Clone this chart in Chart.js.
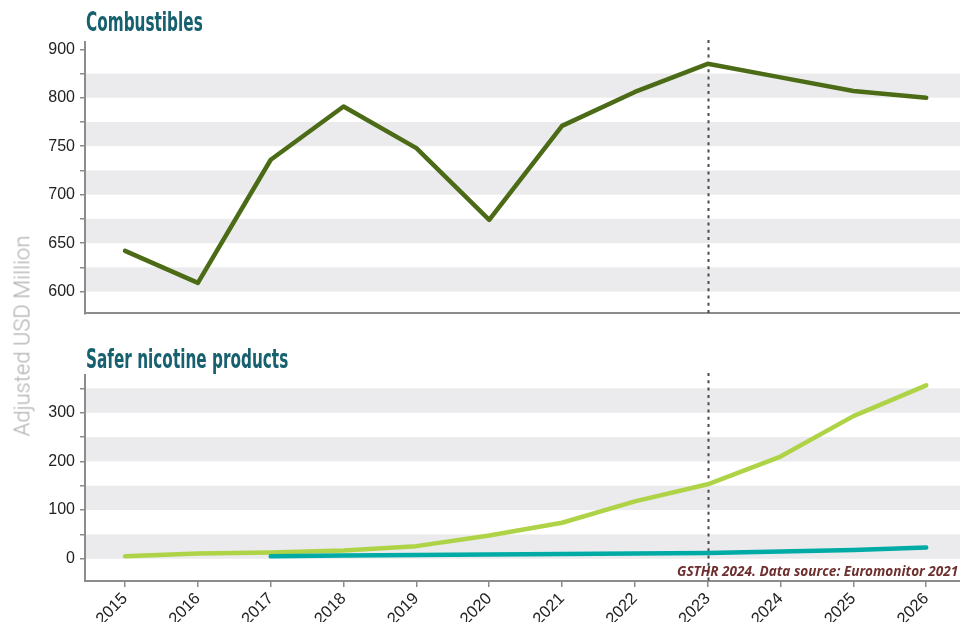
<!DOCTYPE html>
<html>
<head>
<meta charset="utf-8">
<title>Combustibles vs safer nicotine products</title>
<script src="https://cdn.jsdelivr.net/npm/chart.js@4.4.1/dist/chart.umd.min.js"></script>
<style>
  html, body { margin: 0; padding: 0; background: #fff; overflow: hidden; }
  #wrap { position: relative; width: 960px; height: 622px; overflow: hidden; }
  canvas { position: absolute; left: 0; }
  #combChart { top: 0; }
  #snpChart { top: 330px; }
  .title {
    position: absolute; left: 86px; white-space: nowrap;
    font-family: 'DejaVu Sans Condensed', 'Liberation Sans Narrow', 'Roboto Condensed', sans-serif;
    font-weight: 700; font-size: 27px; line-height: 28px; color: #17606f;
    transform-origin: left top;
  }
  #t1 { top: 8px; }
  #t2 { top: 345px; }
  #ytitle {
    position: absolute; left: 22px; top: 336px; white-space: nowrap;
    font-family: Roboto, 'Liberation Sans', sans-serif; font-weight: 300;
    font-size: 22px; color: #b0b0b0;
    transform: translate(-50%, -50%) rotate(-90deg);
  }
  #source {
    position: absolute; left: 677px; top: 561px; white-space: nowrap;
    font-family: 'Open Sans', 'Liberation Sans', sans-serif; font-style: italic; font-weight: 700;
    font-size: 13.6px; color: #6e2f2f;
  }
</style>
</head>
<body>
<div id="wrap">
  <canvas id="combChart" width="985" height="328"></canvas>
  <canvas id="snpChart" width="985" height="292"></canvas>
  <div class="title" id="t1" data-w="117">Combustibles</div>
  <div class="title" id="t2" data-w="202">Safer nicotine products</div>
  <div id="ytitle">Adjusted USD Million</div>
  <div id="source">GSTHR 2024. Data source: Euromonitor 2021</div>
</div>
<script>
const years = [2015, 2016, 2017, 2018, 2019, 2020, 2021, 2022, 2023, 2024, 2025, 2026]
const combustibles = [642, 609, 736, 791, 748, 674, 771, 806, 835, 821, 807, 800]
const vaping = [5, 11, 13, 17, 26, 48, 74, 118, 153, 210, 293, 356]
const heated = [null, null, 5, 7, 8, 9, 10, 11, 12, 15, 18, 23]

// y ticks of the top panel and the text shown beside them
const combTicks = [600, 650, 700, 750, 800, 850]
const combTickLabels = ['600', '650', '700', '750', '800', '900']
const snpTicks = [0, 100, 200, 300]
const snpTickLabels = ['0', '100', '200', '300']

const markerYear = 2023

const axisColor = '#8c8c8c'
const tickFont = { family: "'Liberation Sans', Arial, sans-serif", size: 16 }

const toPoints = values => years.map((x, i) => ({ x, y: values[i] }))

// squeeze the panel titles into a narrow, condensed look
document.querySelectorAll('.title').forEach(el => {
	const k = Number(el.dataset.w) / el.offsetWidth
	el.style.transform = `scaleX(${k})`
})

// grey bands from every labelled tick up to the next half step, plus the dotted year marker
const bandsPlugin = {
	id: 'bands',
	beforeDatasetsDraw(chart, args, opts) {
		const { ctx, chartArea: a, scales: { x, y } } = chart
		ctx.save()
		ctx.fillStyle = '#ebebed'
		opts.from.forEach(v => {
			const y1 = y.getPixelForValue(v)
			const y2 = Math.max(y.getPixelForValue(v + opts.size), a.top)
			ctx.fillRect(a.left + 1, y2, a.right - a.left, y1 - y2)
		})
		const mx = Math.round(x.getPixelForValue(markerYear)) + 0.5
		ctx.strokeStyle = '#4a4a4a'
		ctx.lineWidth = 2
		ctx.setLineDash([3, 4.3])
		ctx.beginPath()
		ctx.moveTo(mx, a.top - 2)
		ctx.lineTo(mx, a.bottom)
		ctx.stroke()
		ctx.restore()
	},
}

const xScale = (showLabels, height) => ({
	type: 'linear',
	min: 2014.45,
	max: 2026.67,
	ticks: {
		display: showLabels,
		stepSize: 1,
		includeBounds: false,
		autoSkip: false,
		minRotation: 45,
		maxRotation: 45,
		padding: 2,
		color: '#222',
		font: { ...tickFont, size: 16.5 },
		callback: v => String(v),
	},
	grid: { display: showLabels, drawOnChartArea: false, drawTicks: true, tickLength: 6, color: axisColor, lineWidth: 1.5 },
	border: { color: axisColor, width: 2 },
	afterFit: s => {
		s.height = height
	},
})

const yScale = (min, max, ticks, labels) => ({
	min,
	max,
	ticks: {
		stepSize: 25 * (ticks[1] - ticks[0]) / 50,
		includeBounds: false,
		autoSkip: false,
		padding: 5,
		color: '#222',
		font: tickFont,
		callback: v => {
			const i = ticks.indexOf(v)
			return i >= 0 ? labels[i] : ''
		},
	},
	grid: { drawOnChartArea: false, drawTicks: true, tickLength: 5, color: axisColor, lineWidth: 1.5 },
	border: { color: axisColor, width: 2 },
	afterFit: s => {
		s.width = 85
	},
})

const line = (data, color) => ({
	data,
	borderColor: color,
	borderWidth: 4.5,
	pointRadius: 0,
	tension: 0,
	borderCapStyle: 'round',
	borderJoinStyle: 'round',
	spanGaps: false,
})

const baseOptions = {
	responsive: false,
	animation: false,
	events: [],
	plugins: { legend: { display: false }, tooltip: { enabled: false } },
}

new Chart(document.getElementById('combChart'), {
	type: 'line',
	data: { datasets: [line(toPoints(combustibles), '#4b6b16')] },
	options: {
		...baseOptions,
		layout: { padding: { top: 42, bottom: 0, left: 0, right: 10 } },
		plugins: { ...baseOptions.plugins, bands: { from: combTicks.slice(0, -1), size: 25 } },
		scales: {
			x: xScale(false, 7),
			y: yScale(577.5, 857.5, combTicks, combTickLabels),
		},
	},
	plugins: [bandsPlugin],
})

new Chart(document.getElementById('snpChart'), {
	type: 'line',
	data: {
		datasets: [line(toPoints(heated), '#00aba6'), line(toPoints(vaping), '#afd346')],
	},
	options: {
		...baseOptions,
		layout: { padding: { top: 45, bottom: 0, left: 0, right: 10 } },
		plugins: { ...baseOptions.plugins, bands: { from: snpTicks, size: 50 } },
		scales: {
			x: xScale(true, 41),
			y: yScale(-45.6, 377.4, snpTicks, snpTickLabels),
		},
	},
	plugins: [bandsPlugin],
})
</script>
</body>
</html>
